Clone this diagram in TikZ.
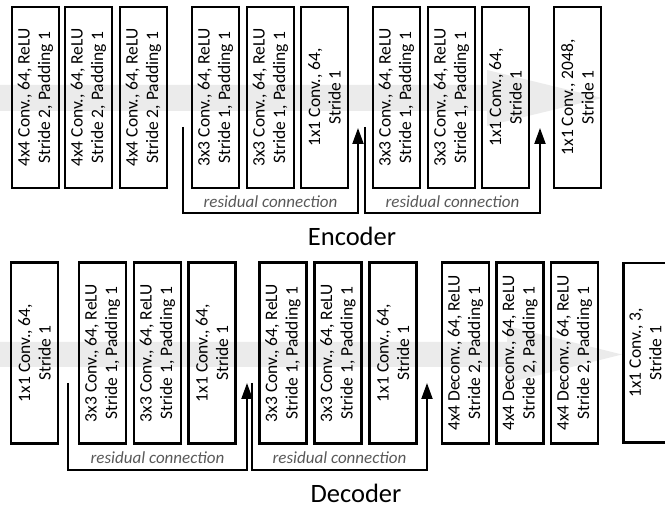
\documentclass[tikz,border=0pt]{standalone}
\usepackage{fontspec}
\setmainfont{Carlito}
\usetikzlibrary{arrows.meta}
\definecolor{bandgray}{HTML}{EBEBEB}
\definecolor{labgray}{HTML}{595959}
\tikzset{
  blk/.style={draw=black, line width=2.5pt, rotate=90, minimum width=181pt, minimum height=47pt,
    inner sep=0pt, align=center, font=\fontsize{17.5}{20.5}\selectfont},
  blktext/.style={rotate=90, inner sep=0pt, align=center, font=\fontsize{17.5}{20.5}\selectfont},
  boxline/.style={draw=black, line width=2.5pt},
  resline/.style={draw=black, line width=2pt, -{Triangle[length=16pt,width=11pt]}},
  reslab/.style={font=\fontsize{17}{20}\selectfont\itshape, text=labgray, inner sep=0pt},
  title/.style={font=\fontsize{26.5}{30}\selectfont, inner sep=0pt, anchor=base},
  band/.style={fill=bandgray, draw=none}
}
\begin{document}
\begin{tikzpicture}[x=1pt,y=-1pt]
\useasboundingbox (0,0) rectangle (665,510);
% gray flow arrows
\fill[band] (0,85) -- (487,85) -- (487,70) -- (602,98) -- (487,126) -- (487,111) -- (0,111) -- cycle;
\fill[band] (0,342) -- (507,342) -- (507,326) -- (622,354.5) -- (507,383) -- (507,367) -- (0,367) -- cycle;
% encoder
\node[blk] (e1) at (35.5,97.5) {4x4 Conv., 64, ReLU\\Stride 2, Padding 1};
\node[blk] (e2) at (88.5,97.5) {4x4 Conv., 64, ReLU\\Stride 2, Padding 1};
\node[blk] (e3) at (143.5,97.5) {4x4 Conv., 64, ReLU\\Stride 2, Padding 1};
\node[blk] (e4) at (215.5,97.5) {3x3 Conv., 64, ReLU\\Stride 1, Padding 1};
\node[blk] (e5) at (270.5,97.5) {3x3 Conv., 64, ReLU\\Stride 1, Padding 1};
\node[blk] (e6) at (324.5,97.5) {1x1 Conv., 64,\\Stride 1};
\node[blk] (e7) at (396.5,97.5) {3x3 Conv., 64, ReLU\\Stride 1, Padding 1};
\node[blk] (e8) at (451.5,97.5) {3x3 Conv., 64, ReLU\\Stride 1, Padding 1};
\node[blk] (e9) at (505.5,97.5) {1x1 Conv., 64,\\Stride 1};
\node[blk] (e10) at (577.5,97.5) {1x1 Conv., 2048,\\Stride 1};
% encoder residuals
\coordinate (ea1) at (183,127);
\coordinate (eb1) at (358,128);
\coordinate (ea2) at (365,127);
\coordinate (eb2) at (540,128);
\draw[resline] (ea1) -- (ea1 |- 0,213) -| (eb1);
\draw[resline] (ea2) -- (ea2 |- 0,213) -| (eb2);
\node[reslab] (el1) at (270.5,202) {residual connection};
\node[reslab] (el2) at (452.5,202) {residual connection};
\node[title] (enc) at (352,246) {Encoder};
% decoder
\node[blk] (d1) at (34.5,353) {1x1 Conv., 64,\\Stride 1};
\node[blk] (d2) at (102.5,353) {3x3 Conv., 64, ReLU\\Stride 1, Padding 1};
\node[blk] (d3) at (157.5,353) {3x3 Conv., 64, ReLU\\Stride 1, Padding 1};
\node[blk] (d4) at (212,353) {1x1 Conv., 64,\\Stride 1};
\node[blk] (d5) at (283,353) {3x3 Conv., 64, ReLU\\Stride 1, Padding 1};
\node[blk] (d6) at (338,353) {3x3 Conv., 64, ReLU\\Stride 1, Padding 1};
\node[blk] (d7) at (393,353) {1x1 Conv., 64,\\Stride 1};
\node[blk] (d8) at (465.5,353) {4x4 Deconv., 64, ReLU\\Stride 2, Padding 1};
\node[blk] (d9) at (520,353) {4x4 Deconv., 64, ReLU\\Stride 2, Padding 1};
\node[blk] (d10) at (574.5,353) {4x4 Deconv., 64, ReLU\\Stride 2, Padding 1};
% last box, cut off by the right edge
\draw[boxline] (670,263.25) -- (623.25,263.25) -- (623.25,442.75) -- (670,442.75);
\node[blktext] (d11) at (645.5,353) {1x1 Conv., 3,\\Stride 1};
% decoder residuals
\coordinate (da1) at (68,383);
\coordinate (db1) at (247,383);
\coordinate (da2) at (252,383);
\coordinate (db2) at (427,383);
\draw[resline] (da1) -- (da1 |- 0,470) -| (db1);
\draw[resline] (da2) -- (da2 |- 0,470) -| (db2);
\node[reslab] (dl1) at (157.5,458) {residual connection};
\node[reslab] (dl2) at (339.5,458) {residual connection};
\node[title] (dec) at (356,503) {Decoder};
\end{tikzpicture}
\end{document}
